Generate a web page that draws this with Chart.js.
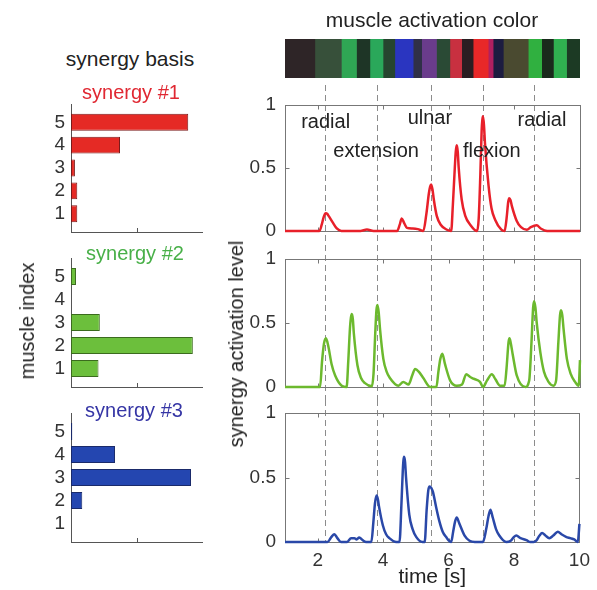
<!DOCTYPE html>
<html><head><meta charset="utf-8">
<script src="https://cdn.jsdelivr.net/npm/chart.js@4.4.0/dist/chart.umd.min.js"></script>
<style>
html,body{margin:0;padding:0;background:#fff;}
#wrap{position:relative;width:597px;height:590px;overflow:hidden;font-family:'Liberation Sans',Arial,Helvetica,sans-serif;}
canvas{position:absolute;}
.t{position:absolute;transform:translate(-50%,-50%);white-space:nowrap;line-height:1;color:#222;}
.r{transform:translate(-50%,-50%) rotate(-90deg);}
</style></head><body>
<div id="wrap">
  <canvas id="strip" width="357" height="56" style="left:240px;top:30px"></canvas>
  <canvas id="l1" width="357" height="165" style="left:240px;top:80px"></canvas>
  <canvas id="l2" width="357" height="155" style="left:240px;top:245px"></canvas>
  <canvas id="l3" width="357" height="190" style="left:240px;top:400px"></canvas>
  <canvas id="b1" width="240" height="164" style="left:0px;top:80px"></canvas>
  <canvas id="b2" width="240" height="154" style="left:0px;top:245px"></canvas>
  <canvas id="b3" width="240" height="154" style="left:0px;top:400px"></canvas>
  <div class="t" style="left:432px;top:19px;font-size:21px">muscle activation color</div>
  <div class="t" style="left:130px;top:58px;font-size:21px">synergy basis</div>
  <div class="t" style="left:131px;top:92px;font-size:20px;color:#e02832">synergy #1</div>
  <div class="t" style="left:135px;top:253px;font-size:20px;color:#48b048">synergy #2</div>
  <div class="t" style="left:134px;top:410px;font-size:20px;color:#3535a5">synergy #3</div>
  <div class="t r" style="left:27px;top:321px;font-size:20px">muscle index</div>
  <div class="t r" style="left:236px;top:344px;font-size:20px">synergy activation level</div>
</div>
<script>
// ---------- data ----------
const muscleIndex = [1, 2, 3, 4, 5];
const basis1 = [0.048, 0.048, 0.03, 0.374, 0.895];
const basis2 = [0.21, 0.93, 0.22, 0, 0.038];
const basis3 = [0, 0.086, 0.916, 0.336, 0.01];

const timeTicks = [2, 4, 6, 8, 10];
const levelTicks = [0, 0.5, 1];
const eventTimes = [2.22, 3.81, 5.46, 7.05, 8.6];

const movementLabels = ['radial', 'extension', 'ulnar', 'flexion', 'radial'];
const movementTimes = [2.24, 3.78, 5.42, 7.31, 8.84];
const movementLevels = [0.86, 0.63, 0.89, 0.63, 0.88];

const stripEdges = [1.0, 1.91, 2.72, 3.18, 3.59, 3.99, 4.35, 4.91, 5.17, 5.62, 6.03, 6.39, 6.74, 7.2, 7.35, 7.66, 8.42, 8.83, 9.19, 9.59, 10.0];
const stripColors = ['#2e2527', '#37503a', '#2fa654', '#1e3526', '#2aa85a', '#26452f', '#2a35c0', '#303048', '#6a3c8c', '#2a4a35',
                     '#c83040', '#2a1e22', '#e82828', '#b02060', '#1c1c40', '#4a4a30', '#30b040', '#1a2a1c', '#30b050', '#1c3a24'];

const synergy1 = [[1.0,0],[2.05,0],[2.12,0.05],[2.18,0.11],[2.22,0.135],[2.25,0.14],[2.29,0.135],[2.33,0.12],[2.45,0.07],[2.58,0.02],[2.72,0],[3.3,0],[3.5,0.012],[3.7,0],
  [4.42,0],[4.5,0.05],[4.56,0.1],[4.64,0.06],[4.72,0.025],[4.9,0.02],[5.05,0.015],[5.22,0],[5.31,0.13],[5.39,0.3],[5.43,0.355],[5.46,0.37],[5.5,0.33],[5.54,0.25],[5.63,0.12],[5.75,0.05],[5.94,0.01],
  [6.07,0],[6.12,0.2],[6.18,0.5],[6.21,0.63],[6.24,0.68],[6.27,0.63],[6.3,0.5],[6.39,0.25],[6.5,0.12],[6.65,0.05],[6.86,0],[6.91,0.1],[6.96,0.45],[7.0,0.8],[7.02,0.88],[7.04,0.91],[7.07,0.84],[7.1,0.7],[7.21,0.36],[7.3,0.18],[7.41,0.09],[7.6,0.01],
  [7.7,0],[7.76,0.1],[7.81,0.23],[7.84,0.26],[7.88,0.245],[7.92,0.2],[8.07,0.08],[8.2,0.03],[8.38,0.01],[8.5,0.03],[8.68,0.045],[8.8,0.02],[9.0,0],[10.0,0]];
const synergy2 = [[1.0,0],[2.07,0],[2.13,0.2],[2.19,0.34],[2.25,0.38],[2.32,0.32],[2.42,0.18],[2.53,0.09],[2.73,0.01],[2.88,0],[2.93,0.2],[2.98,0.45],[3.01,0.54],[3.04,0.57],[3.07,0.53],[3.1,0.42],[3.21,0.17],[3.32,0.07],[3.44,0.03],[3.65,0.005],
  [3.7,0.1],[3.75,0.4],[3.79,0.6],[3.82,0.64],[3.86,0.58],[3.9,0.45],[4.0,0.22],[4.1,0.12],[4.2,0.07],[4.46,0.01],[4.61,0.04],[4.77,0.02],[4.88,0.09],[4.97,0.14],[5.08,0.12],[5.22,0.07],[5.43,0],[5.62,0],
  [5.68,0.12],[5.74,0.22],[5.8,0.26],[5.88,0.18],[6.04,0.05],[6.24,0.01],[6.4,0.02],[6.53,0.1],[6.64,0.08],[6.75,0.065],[6.95,0.04],[7.04,0],[7.16,0.05],[7.31,0.1],[7.42,0.06],[7.56,0.01],[7.7,0.01],
  [7.76,0.15],[7.82,0.35],[7.85,0.38],[7.89,0.34],[7.95,0.25],[8.07,0.09],[8.33,0],[8.45,0.05],[8.52,0.35],[8.57,0.62],[8.6,0.67],[8.64,0.62],[8.68,0.5],[8.79,0.27],[8.9,0.12],[9.04,0.04],[9.19,0.01],
  [9.27,0.05],[9.34,0.35],[9.39,0.56],[9.42,0.6],[9.46,0.56],[9.5,0.45],[9.6,0.22],[9.72,0.1],[9.85,0.04],[9.96,0.01],[10.0,0.21]];
const synergy3 = [[1.0,0],[2.2,0],[2.3,0],[2.42,0.04],[2.51,0.06],[2.6,0.03],[2.71,0],[2.9,0],[3.02,0.03],[3.12,0.03],[3.19,0.02],[3.27,0.035],[3.37,0.015],[3.48,0],[3.64,0],
  [3.7,0.15],[3.75,0.3],[3.8,0.36],[3.84,0.33],[3.87,0.28],[3.99,0.13],[4.09,0.06],[4.19,0.03],[4.4,0],[4.5,0],[4.56,0.3],[4.6,0.55],[4.62,0.63],[4.64,0.66],[4.67,0.62],[4.7,0.5],[4.8,0.21],[4.9,0.1],[5.01,0.04],[5.2,0],
  [5.27,0],[5.33,0.25],[5.38,0.4],[5.42,0.43],[5.47,0.42],[5.52,0.39],[5.62,0.27],[5.72,0.16],[5.82,0.08],[5.92,0.04],[6.08,0],[6.14,0.08],[6.2,0.16],[6.25,0.19],[6.32,0.15],[6.49,0.05],[6.64,0.01],[6.8,0],
  [7.05,0],[7.15,0.1],[7.22,0.2],[7.28,0.25],[7.35,0.19],[7.45,0.1],[7.55,0.05],[7.76,0],[7.9,0.01],[8.0,0.04],[8.07,0.05],[8.2,0.03],[8.38,0.015],[8.5,0],[8.6,0],
  [8.68,0.01],[8.78,0.05],[8.86,0.07],[8.96,0.05],[9.08,0.03],[9.2,0.05],[9.34,0.08],[9.45,0.06],[9.59,0.04],[9.72,0.03],[9.84,0.02],[9.95,0],[10.0,0.14]];

// ---------- setup ----------
Chart.defaults.font.family = "'Liberation Sans', Arial, Helvetica, sans-serif";
Chart.defaults.color = '#333';

const boxPlugin = {
  id: 'mbox',
  beforeDatasetsDraw(chart, args, opts) {
    const {ctx, chartArea: a, scales: {x, y}} = chart;
    ctx.save();
    ctx.lineWidth = 1;
    if (opts.events) {
      ctx.strokeStyle = '#8c8c8c';
      ctx.setLineDash([6, 4]);
      const y0 = opts.dashTop, y1 = opts.dashToArea ? a.bottom : chart.height;
      opts.events.forEach(t => {
        const px = Math.round(x.getPixelForValue(t)) + 0.5;
        ctx.beginPath(); ctx.moveTo(px, y0); ctx.lineTo(px, y1); ctx.stroke();
      });
      ctx.setLineDash([]);
    }
    ctx.strokeStyle = '#777';
    const L = Math.round(a.left) + 0.5, R = Math.round(a.right) + 0.5, T = Math.round(a.top) + 0.5, B = Math.round(a.bottom) + 0.5;
    ctx.strokeRect(L, T, R - L, B - T);
    const tl = 4;
    const seg = (x0, y0, x1, y1) => { ctx.beginPath(); ctx.moveTo(x0, y0); ctx.lineTo(x1, y1); ctx.stroke(); };
    x.ticks.forEach(tk => {
      const px = Math.round(x.getPixelForValue(tk.value)) + 0.5;
      seg(px, B, px, B - tl); seg(px, T, px, T + tl);
    });
    y.ticks.forEach(tk => {
      const py = Math.round(y.getPixelForValue(tk.value)) + 0.5;
      seg(L, py, L + tl, py); seg(R, py, R - tl, py);
    });
    ctx.restore();
  }
};

const notesPlugin = {
  id: 'notes',
  afterDatasetsDraw(chart, args, opts) {
    if (!opts.labels) return;
    const {ctx, scales: {x, y}} = chart;
    ctx.save();
    ctx.font = "20px 'Liberation Sans', Arial, sans-serif";
    ctx.fillStyle = '#222';
    ctx.textAlign = 'center';
    ctx.textBaseline = 'middle';
    opts.labels.forEach((txt, i) => {
      ctx.fillText(txt, x.getPixelForValue(opts.times[i]), y.getPixelForValue(opts.levels[i]));
    });
    ctx.restore();
  }
};

function lineChart(id, series, color, o) {
  return new Chart(document.getElementById(id), {
    type: 'line',
    data: { datasets: [{
      data: series.map(p => ({x: p[0], y: p[1]})),
      borderColor: color, borderWidth: 2.5, pointRadius: 0,
      cubicInterpolationMode: 'monotone', fill: false, clip: false
    }] },
    options: {
      responsive: false, animation: false, devicePixelRatio: 1,
      layout: { padding: { top: o.padTop, right: 17, left: 0, bottom: 0 } },
      plugins: {
        legend: { display: false }, tooltip: { enabled: false },
        mbox: { events: eventTimes, dashTop: o.dashTop, dashToArea: o.dashToArea },
        notes: o.notes || {}
      },
      scales: {
        x: {
          type: 'linear', min: 1, max: 10,
          grid: { display: false, drawTicks: false }, border: { display: false },
          ticks: { display: o.showX, font: { size: 19 }, color: '#333', padding: 7, maxRotation: 0, autoSkip: false },
          title: { display: o.showX, text: 'time [s]', font: { size: 21 }, color: '#222', padding: 0 },
          afterBuildTicks: s => { s.ticks = timeTicks.map(v => ({ value: v })); },
          afterFit: s => { s.height = o.xh; }
        },
        y: {
          type: 'linear', min: 0, max: 1,
          grid: { display: false, drawTicks: true, tickLength: 9 }, border: { display: false },
          ticks: { font: { size: 19, lineHeight: 1 }, color: '#333', padding: 0, callback: v => String(v) },
          afterBuildTicks: s => { s.ticks = levelTicks.map(v => ({ value: v })); },
          afterFit: s => { s.width = 45; }
        }
      }
    },
    plugins: [boxPlugin, notesPlugin]
  });
}

const barTickPlugin = {
  id: 'bticks',
  afterDatasetsDraw(chart) {
    const {ctx, chartArea: a, scales: {x}} = chart;
    ctx.save();
    ctx.strokeStyle = '#555'; ctx.lineWidth = 1;
    const px = Math.round(x.getPixelForValue(0.5)) + 0.5, B = Math.round(a.bottom);
    ctx.beginPath(); ctx.moveTo(px, B); ctx.lineTo(px, B - 4); ctx.stroke();
    ctx.restore();
  }
};

function barChart(id, values, fill, edge, padTop) {
  return new Chart(document.getElementById(id), {
    type: 'bar',
    data: { datasets: [{
      data: muscleIndex.map((m, i) => ({ x: values[i], y: m })),
      backgroundColor: fill, borderColor: edge,
      borderWidth: c => (c.raw && c.raw.x > 0) ? 1 : 0,
      borderSkipped: false, barPercentage: 0.74, categoryPercentage: 1
    }] },
    options: {
      indexAxis: 'y', responsive: false, animation: false, devicePixelRatio: 1,
      layout: { padding: { top: padTop, left: 0, right: 38, bottom: 0 } },
      plugins: { legend: { display: false }, tooltip: { enabled: false } },
      scales: {
        x: { type: 'linear', min: 0, max: 1,
             grid: { display: false, drawTicks: false }, border: { display: true, color: '#555', width: 1 },
             ticks: { display: false }, afterFit: s => { s.height = 12; } },
        y: { type: 'linear', min: 0.2, max: 5.8, offset: false,
             grid: { display: false, drawTicks: true, tickLength: 6 }, border: { display: true, color: '#555', width: 1 },
             ticks: { font: { size: 19, lineHeight: 1 }, color: '#333', padding: 0 },
             afterBuildTicks: s => { s.ticks = muscleIndex.map(v => ({ value: v })); },
             afterFit: s => { s.width = 71; } }
      }
    },
    plugins: [barTickPlugin]
  });
}

// color strip
new Chart(document.getElementById('strip'), {
  type: 'bar',
  data: { labels: ['activation'], datasets: stripColors.map((c, i) => ({
    data: [[stripEdges[i], stripEdges[i + 1]]], backgroundColor: c, borderWidth: 0,
    grouped: false, barPercentage: 1, categoryPercentage: 1
  })) },
  options: {
    indexAxis: 'y', responsive: false, animation: false, devicePixelRatio: 1,
    layout: { padding: { left: 45, right: 17, top: 9, bottom: 8 } },
    plugins: { legend: { display: false }, tooltip: { enabled: false } },
    scales: { x: { type: 'linear', min: 1, max: 10, display: false }, y: { display: false } }
  }
});

lineChart('l1', synergy1, '#e8202a', { padTop: 25, xh: 14, showX: false, dashTop: 5, dashToArea: false,
  notes: { labels: movementLabels, times: movementTimes, levels: movementLevels } });
lineChart('l2', synergy2, '#6cb92e', { padTop: 14, xh: 13, showX: false, dashTop: 0, dashToArea: false });
lineChart('l3', synergy3, '#2a48a8', { padTop: 13, xh: 48, showX: true, dashTop: 0, dashToArea: true });

barChart('b1', basis1, '#e52a25', '#7a1a1a', 24);
barChart('b2', basis2, '#6cbf3c', '#3b6b1e', 13);
barChart('b3', basis3, '#2446b0', '#1a2a6a', 13);
</script>
</body></html>
